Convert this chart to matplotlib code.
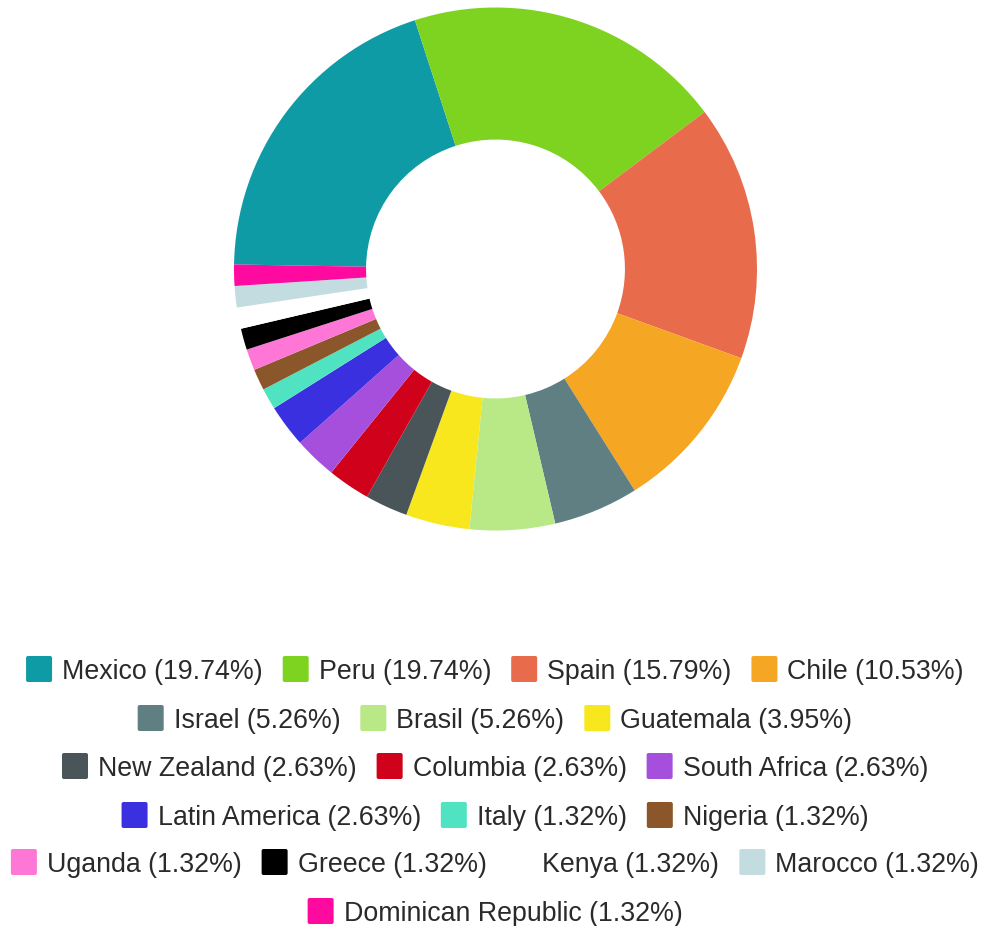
import matplotlib
matplotlib.use("Agg")
import matplotlib.pyplot as plt
from matplotlib.patches import FancyBboxPatch

countries = ["Mexico", "Peru", "Spain", "Chile", "Israel", "Brasil", "Guatemala",
             "New Zealand", "Columbia", "South Africa", "Latin America", "Italy",
             "Nigeria", "Uganda", "Greece", "Kenya", "Marocco", "Dominican Republic"]
counts = [15, 15, 12, 8, 4, 4, 3, 2, 2, 2, 2, 1, 1, 1, 1, 1, 1, 1]
colors = ["#0f9ba5", "#7ed321", "#e86c4c", "#f5a623", "#607f82", "#b8e986", "#f8e71c",
          "#4a555a", "#d0021b", "#a64fdc", "#3a30e0", "#50e3c2", "#8b572a", "#ff77d6",
          "#000000", "#ffffff", "#c2dce0", "#ff0a9e"]
legend_rows = [[0, 1, 2, 3], [4, 5, 6], [7, 8, 9], [10, 11, 12], [13, 14, 15, 16], [17]]

W, H = 986, 926
fig = plt.figure(figsize=(W / 100, H / 100), dpi=100)
fig.patch.set_facecolor("white")

cx, cy, R = 495.5, 269, 261.5
ax = fig.add_axes([(cx - R) / W, (H - cy - R) / H, 2 * R / W, 2 * R / H])
ax.pie(counts, colors=colors, startangle=179, counterclock=False, radius=1,
       wedgeprops=dict(width=0.505, linewidth=0))
ax.set_xlim(-1, 1)
ax.set_ylim(-1, 1)
ax.set_aspect("equal")
ax.axis("off")

total = sum(counts)
labels = [f"{c} ({n / total * 100:.2f}%)" for c, n in zip(countries, counts)]

fs = 19.3
font = dict(family=["Liberation Sans", "DejaVu Sans"], size=fs, color="#2a2a2a")
renderer = fig.canvas.get_renderer()

def text_width(s):
    t = fig.text(0, 0, s, **font)
    bb = t.get_window_extent(renderer=renderer)
    t.remove()
    return bb.width

sw = 26
gap_sw = 10
gap_item = 20
row_y = [669, 718, 766, 815, 862, 911]
center_x = 495
for row, yc in zip(legend_rows, row_y):
    widths = [text_width(labels[i]) for i in row]
    total_w = sum(sw + gap_sw + w for w in widths) + gap_item * (len(row) - 1)
    x = center_x - total_w / 2
    for i, w in zip(row, widths):
        p = FancyBboxPatch((x / W, (H - yc - sw / 2) / H), sw / W, sw / H,
                           boxstyle="round,pad=0,rounding_size=0.002",
                           transform=fig.transFigure, facecolor=colors[i],
                           edgecolor="none")
        fig.patches.append(p)
        fig.text((x + sw + gap_sw) / W, (H - yc) / H, labels[i], va="center_baseline",
                 ha="left", **font)
        x += sw + gap_sw + w + gap_item

fig.savefig("out.png", dpi=100, facecolor="white")
